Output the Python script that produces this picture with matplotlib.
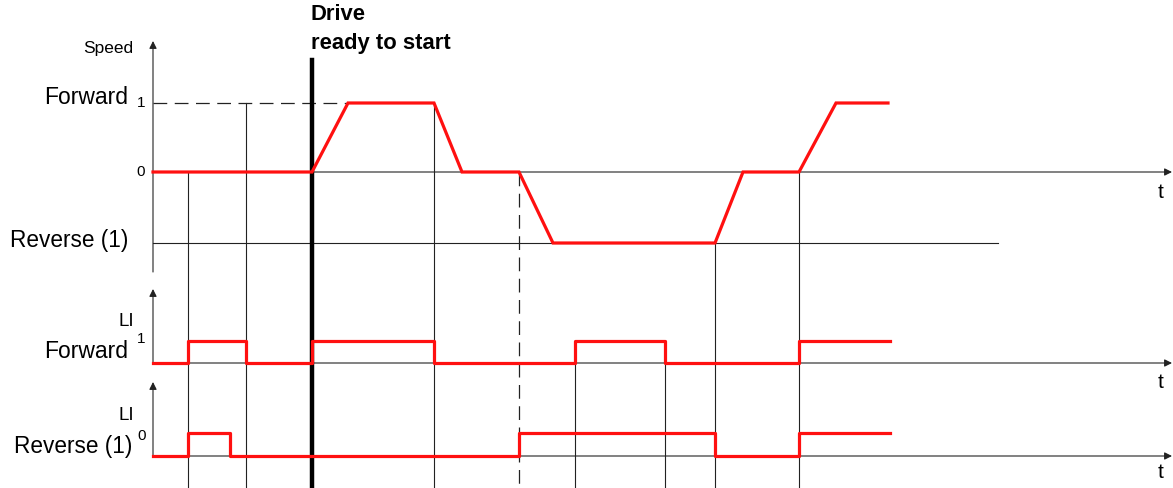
import numpy as np
import matplotlib.pyplot as plt

plt.rcParams['font.family'] = ['Liberation Sans', 'DejaVu Sans']

# speed profile: time points (px along t axis) and speed level (-1 reverse, 0 stop, 1 forward)
speed_t = [153, 312, 348, 434, 462, 519, 553, 715, 743, 799, 836, 888]
speed_v = [0, 0, 1, 1, 0, 0, -1, -1, 0, 0, 1, 1]

# logic inputs: switching times and state after each switch
fwd_t = [153, 188, 246, 312, 434, 575, 665, 799, 890]
fwd_v = [0, 1, 0, 1, 0, 1, 0, 1]
rev_t = [153, 188, 230, 519, 715, 799, 890]
rev_v = [0, 1, 0, 1, 0, 1]

# event markers (time, where the marker line starts, style)
event_t = [188, 246, 434, 519, 575, 665, 715, 799]
event_top = ['zero', 'fwd', 'fwd', 'zero', 'li', 'li', 'rev', 'zero']
event_dash = [False, False, False, True, False, False, False, False]
ready_t = 312

# vertical layout (px)
y_zero, y_fwd, y_rev = 172, 103, 243
li_f_base, li_f_high = 363, 341
li_r_base, li_r_high = 456, 433
x0, x_end = 153, 1172

RED = '#ff1010'
AX = '#222222'

fig = plt.figure(figsize=(11.73, 4.88), dpi=100)
ax = fig.add_axes([0, 0, 1, 1])
ax.set_xlim(0, 1173)
ax.set_ylim(488, 0)
ax.axis('off')

def speed_y(v):
    v = np.asarray(v, dtype=float)
    return np.where(v >= 0, y_zero - (y_zero - y_fwd) * v, y_zero + (y_rev - y_zero) * (-v))

def arrow(x1, y1, x2, y2):
    ax.annotate('', xy=(x2, y2), xytext=(x1, y1),
                arrowprops=dict(arrowstyle='-|>', lw=0.8, color=AX,
                                mutation_scale=11, shrinkA=0, shrinkB=0))

# axes
arrow(x0, 272, x0, 41)
arrow(x0, y_zero, x_end, y_zero)
ax.plot([x0, 998], [y_rev, y_rev], color=AX, lw=0.8)
ax.plot([x0, 348], [y_fwd, y_fwd], color=AX, lw=0.9, dashes=(11, 6))
arrow(x0, li_f_base, x0, 289)
arrow(x0, li_f_base, x_end, li_f_base)
arrow(x0, li_r_base, x0, 382)
arrow(x0, li_r_base, x_end, li_r_base)

# event marker lines
tops = {'zero': y_zero, 'fwd': y_fwd, 'rev': y_rev, 'li': li_f_base}
for t, top, dashed in zip(event_t, event_top, event_dash):
    if dashed:
        ax.plot([t, t], [tops[top], 488], color=AX, lw=0.9, dashes=(11, 6))
    else:
        ax.plot([t, t], [tops[top], 488], color=AX, lw=0.8)

ax.plot([ready_t, ready_t], [60, 488], color='black', lw=3.2, zorder=4)

# signals
ax.plot(speed_t, speed_y(speed_v), color=RED, lw=2.3, zorder=5, solid_joinstyle='miter')

fy = [li_f_base - (li_f_base - li_f_high) * v for v in fwd_v + fwd_v[-1:]]
ax.plot(fwd_t, fy, color=RED, lw=2.3, drawstyle='steps-post', zorder=5)
ry = [li_r_base - (li_r_base - li_r_high) * v for v in rev_v + rev_v[-1:]]
ax.plot(rev_t, ry, color=RED, lw=2.3, drawstyle='steps-post', zorder=5)

# texts
ax.text(133, 48, 'Speed', ha='right', va='center', fontsize=12.5)
ax.text(128, 97, 'Forward', ha='right', va='center', fontsize=16.5)
ax.text(141, 103, '1', ha='center', va='center', fontsize=11)
ax.text(141, 172, '0', ha='center', va='center', fontsize=11)
ax.text(128, 241, 'Reverse (1)', ha='right', va='center', fontsize=16.3)

ax.text(311, 15, 'Drive', ha='left', va='center', fontsize=15.8, fontweight='bold')
ax.text(311, 43, 'ready to start', ha='left', va='center', fontsize=15.8, fontweight='bold')

ax.text(134, 322, 'LI', ha='right', va='center', fontsize=13.5)
ax.text(141, 339, '1', ha='center', va='center', fontsize=11)
ax.text(128, 352, 'Forward', ha='right', va='center', fontsize=16.5)
ax.text(134, 415, 'LI', ha='right', va='center', fontsize=13.5)
ax.text(142, 436, '0', ha='center', va='center', fontsize=11)
ax.text(132, 446, 'Reverse (1)', ha='right', va='center', fontsize=16.3)

for ty in [192, 383, 472]:
    ax.text(1161, ty, 't', ha='center', va='center', fontsize=15)

fig.savefig('out.png', dpi=100)
